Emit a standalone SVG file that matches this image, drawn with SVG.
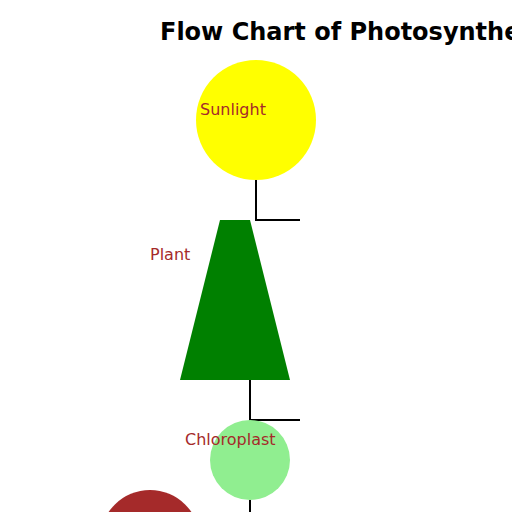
<svg xmlns="http://www.w3.org/2000/svg" width="512" height="512" viewBox="0 0 512 512">
<style>
.lbl{font-family:"DejaVu Sans",sans-serif;font-size:16px;fill:#A52A2A}
.title{font-family:"DejaVu Sans",sans-serif;font-size:24px;font-weight:bold;fill:#000}
.conn{fill:none;stroke:#000;stroke-width:2}
</style>
<rect width="512" height="512" fill="#fff"/>
<text class="title" x="160" y="40">Flow Chart of Photosynthesis</text>
<g id="connectors">
<path class="conn" d="M256,180 V220 H300"/>
<path class="conn" d="M250,380 V420 H300"/>
<path class="conn" d="M250,500 V512"/>
</g>
<g id="sunlight">
<circle cx="256" cy="120" r="60" fill="#FFFF00"/>
<text class="lbl" x="200" y="115">Sunlight</text>
</g>
<g id="plant">
<polygon points="220,220 250,220 290,380 180,380" fill="#008000"/>
<text class="lbl" x="150" y="260">Plant</text>
</g>
<g id="chloroplast">
<circle cx="250" cy="460" r="40" fill="#90EE90"/>
<text class="lbl" x="185" y="445">Chloroplast</text>
</g>
<g id="node4">
<circle cx="150" cy="540" r="50" fill="#A52A2A"/>
</g>
</svg>
